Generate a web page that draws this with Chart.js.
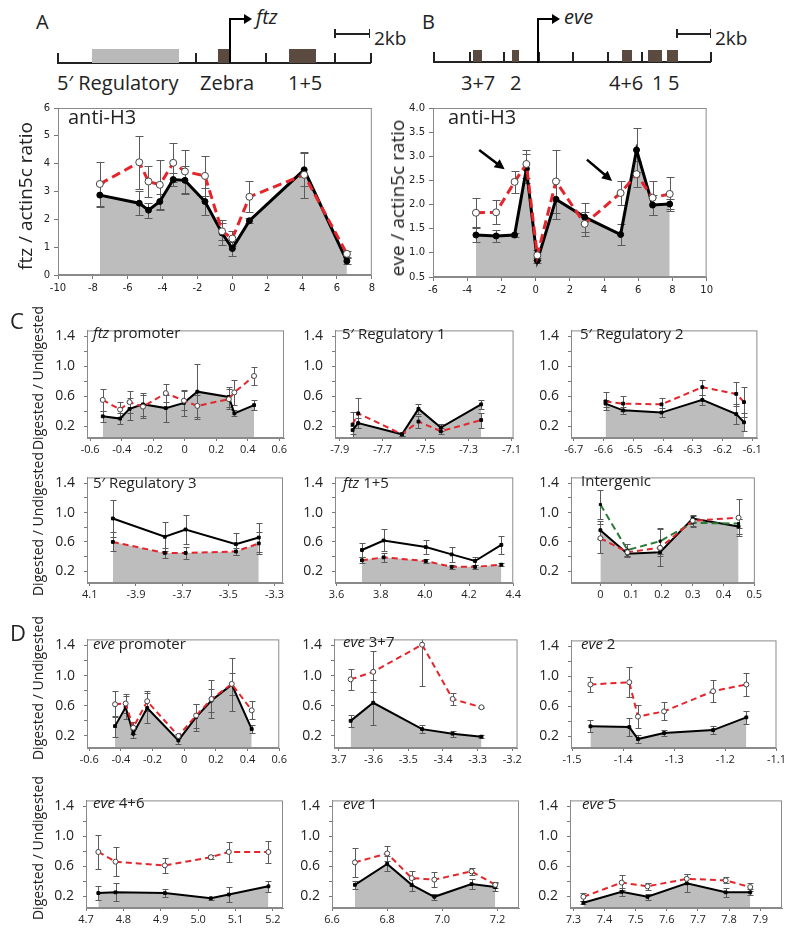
<!DOCTYPE html>
<html>
<head>
<meta charset="utf-8">
<script src="https://cdn.jsdelivr.net/npm/chart.js@4.4.0/dist/chart.umd.min.js"></script>
<style>
body { margin: 0; background: #fff; }
#fig { position: relative; width: 800px; height: 940px; overflow: hidden; font-family: 'Open Sans', sans-serif; color: #222; }
.abs { position: absolute; white-space: nowrap; }
.rot { position: absolute; white-space: nowrap; transform: translate(-50%, -50%) rotate(-90deg); }
canvas { position: absolute; }
</style>
</head>
<body>
<div id="fig"></div>
<script>
// ---- A: ftz locus, anti-H3 (black = filled series, red = dashed) ----
const ftzH3Pos = [-7.6, -5.34, -4.81, -4.16, -3.39, -2.72, -1.57, -0.59, 0, 0.98, 4.12, 6.57];
const ftzH3Black = [2.87, 2.58, 2.33, 2.64, 3.43, 3.40, 2.64, 1.51, 0.95, 1.95, 3.78, 0.50];
const ftzH3BlackErr = [0.42, 0.43, 0.27, 0.28, 0.25, 0.5, 0.48, 0.45, 0.25, 0.08, 0.6, 0.1];
const ftzH3Red = [3.27, 4.05, 3.36, 3.24, 4.03, 3.72, 3.56, 1.57, 1.31, 2.81, 3.60, 0.76];
const ftzH3RedErr = [0.8, 0.95, 0.57, 0.9, 0.7, 0.78, 0.72, 0.3, 0.27, 0.55, 0.82, 0.1];
const ftzH3XTicks = [-10, -8, -6, -4, -2, 0, 2, 4, 6, 8];
const ftzH3YTicks = [0, 1, 2, 3, 4, 5, 6];

// ---- B: eve locus, anti-H3 ----
const eveH3Pos = [-3.49, -2.31, -1.23, -0.54, 0.1, 1.19, 2.87, 4.97, 5.9, 6.84, 7.84];
const eveH3Black = [1.37, 1.35, 1.37, 2.74, 0.84, 2.11, 1.74, 1.38, 3.13, 1.99, 2.01];
const eveH3BlackErr = [0.15, 0.13, 0.05, 0.3, 0.06, 0.4, 0.3, 0.21, 0.46, 0.2, 0.1];
const eveH3Red = [1.83, 1.84, 2.47, 2.84, 0.95, 2.48, 1.6, 2.24, 2.63, 2.14, 2.22];
const eveH3RedErr = [0.3, 0.25, 0.22, 0.3, 0.1, 0.65, 0.25, 0.25, 0.27, 0.35, 0.35];
const eveH3XTicks = [-6, -4, -2, 0, 2, 4, 6, 8, 10];
const eveH3YTicks = [0.5, 1.0, 1.5, 2.0, 2.5, 3.0, 3.5, 4.0];
const eveArrows = [[-3.3, 3.13, -1.81, 2.73], [3.0, 2.93, 4.47, 2.49]];

// ---- C: ftz region digestion ----
const ftzPromPos = [-0.52, -0.41, -0.35, -0.265, -0.12, -0.005, 0.08, 0.28, 0.315, 0.44];
const ftzPromBlack = [0.33, 0.30, 0.43, 0.49, 0.44, 0.51, 0.66, 0.59, 0.37, 0.48];
const ftzPromBlackErr = [0.07, 0.07, 0.15, 0.15, 0.18, 0.17, 0.37, 0.13, 0.04, 0.07];
const ftzPromRed = [0.55, 0.42, 0.52, 0.46, 0.64, 0.54, 0.47, 0.56, 0.65, 0.87];
const ftzPromRedErr = [0.15, 0.1, 0.15, 0.15, 0.12, 0.13, 0.15, 0.13, 0.17, 0.12];
const ftzPromXTicks = [-0.6, -0.4, -0.2, 0, 0.2, 0.4, 0.6];

const reg1Pos = [-7.84, -7.814, -7.61, -7.533, -7.429, -7.241];
const reg1Black = [0.145, 0.24, 0.09, 0.43, 0.18, 0.49];
const reg1BlackErr = [0.05, 0.07, 0.02, 0.07, 0.05, 0.06];
const reg1Red = [0.22, 0.37, 0.09, 0.26, 0.13, 0.28];
const reg1RedErr = [0.17, 0.2, 0.02, 0.08, 0.04, 0.1];
const reg1XTicks = [-7.9, -7.7, -7.5, -7.3, -7.1];

const reg2Pos = [-6.593, -6.534, -6.405, -6.268, -6.154, -6.128];
const reg2Black = [0.5, 0.41, 0.38, 0.55, 0.36, 0.25];
const reg2BlackErr = [0.05, 0.05, 0.06, 0.07, 0.13, 0.12];
const reg2Red = [0.53, 0.50, 0.49, 0.72, 0.63, 0.52];
const reg2RedErr = [0.12, 0.1, 0.09, 0.1, 0.16, 0.2];
const reg2XTicks = [-6.7, -6.6, -6.5, -6.4, -6.3, -6.2, -6.1];

const reg3Pos = [-4.0, -3.775, -3.685, -3.467, -3.368];
const reg3Black = [0.92, 0.67, 0.77, 0.57, 0.66];
const reg3BlackErr = [0.25, 0.2, 0.2, 0.15, 0.2];
const reg3Red = [0.60, 0.45, 0.45, 0.47, 0.58];
const reg3RedErr = [0.13, 0.07, 0.08, 0.05, 0.15];
const reg3XTicks = [-4.1, -3.9, -3.7, -3.5, -3.3];
const reg3XLabels = ['4.1', '-3.9', '-3.7', '-3.5', '-3.3'];

const ftz15Pos = [3.715, 3.813, 4.004, 4.121, 4.227, 4.346];
const ftz15Black = [0.49, 0.62, 0.53, 0.43, 0.34, 0.56];
const ftz15BlackErr = [0.1, 0.15, 0.1, 0.1, 0.05, 0.12];
const ftz15Red = [0.35, 0.39, 0.34, 0.26, 0.26, 0.29];
const ftz15RedErr = [0.04, 0.06, 0.03, 0.03, 0.03, 0.02];
const ftz15XTicks = [3.6, 3.8, 4.0, 4.2, 4.4];

const interPos = [0, 0.088, 0.194, 0.3, 0.449];
const interBlack = [0.76, 0.44, 0.46, 0.92, 0.81];
const interBlackErr = [0.12, 0.04, 0.05, 0.05, 0.1];
const interRed = [0.65, 0.46, 0.52, 0.89, 0.93];
const interRedErr = [0.2, 0.05, 0.25, 0.07, 0.25];
const interGreen = [1.11, 0.49, 0.61, 0.86, 0.85];
const interGreenErr = [0.2, 0.08, 0.18, 0.05, 0.06];
const interXTicks = [0, 0.1, 0.2, 0.3, 0.4, 0.5];

// ---- D: eve region digestion ----
const evePromPos = [-0.437, -0.37, -0.322, -0.234, -0.037, 0.075, 0.172, 0.3, 0.426];
const evePromBlack = [0.33, 0.58, 0.23, 0.57, 0.14, 0.45, 0.67, 0.88, 0.29];
const evePromBlackErr = [0.14, 0.15, 0.06, 0.2, 0.05, 0.18, 0.15, 0.35, 0.05];
const evePromRed = [0.62, 0.63, 0.31, 0.66, 0.2, 0.47, 0.69, 0.89, 0.54];
const evePromRedErr = [0.17, 0.12, 0.08, 0.13, 0.03, 0.16, 0.25, 0.15, 0.12];
const evePromXTicks = [-0.6, -0.4, -0.2, 0, 0.2, 0.4, 0.6];

const eve37Pos = [-3.666, -3.601, -3.46, -3.372, -3.289];
const eve37Black = [0.4, 0.64, 0.29, 0.23, 0.19];
const eve37BlackErr = [0.08, 0.3, 0.05, 0.04, 0.02];
const eve37Red = [0.95, 1.05, 1.41, 0.69, 0.58];
const eve37RedErr = [0.14, 0.27, 0.55, 0.08, 0.01];
const eve37XTicks = [-3.7, -3.6, -3.5, -3.4, -3.3, -3.2];
const eve37XLabels = ['3.7', '-3.6', '-3.5', '-3.4', '-3.3', '-3.2'];

const eve2Pos = [-1.464, -1.388, -1.371, -1.32, -1.224, -1.159];
const eve2Black = [0.33, 0.32, 0.16, 0.24, 0.28, 0.45];
const eve2BlackErr = [0.08, 0.12, 0.05, 0.04, 0.05, 0.09];
const eve2Red = [0.89, 0.92, 0.46, 0.53, 0.80, 0.89];
const eve2RedErr = [0.1, 0.2, 0.15, 0.12, 0.15, 0.15];
const eve2XTicks = [-1.5, -1.4, -1.3, -1.2, -1.1];

const eve46Pos = [4.733, 4.779, 4.911, 5.034, 5.082, 5.188];
const eve46Black = [0.24, 0.25, 0.24, 0.17, 0.22, 0.33];
const eve46BlackErr = [0.09, 0.12, 0.05, 0.02, 0.1, 0.07];
const eve46Red = [0.79, 0.66, 0.61, 0.72, 0.79, 0.79];
const eve46RedErr = [0.23, 0.19, 0.1, 0.03, 0.13, 0.15];
const eve46XTicks = [4.7, 4.8, 4.9, 5.0, 5.1, 5.2];

const eve1Pos = [6.683, 6.8, 6.889, 6.971, 7.106, 7.192];
const eve1Black = [0.35, 0.63, 0.35, 0.19, 0.36, 0.32];
const eve1BlackErr = [0.05, 0.1, 0.08, 0.04, 0.07, 0.05];
const eve1Red = [0.65, 0.77, 0.44, 0.42, 0.53, 0.35];
const eve1RedErr = [0.19, 0.1, 0.1, 0.1, 0.05, 0.04];
const eve1XTicks = [6.6, 6.8, 7.0, 7.2];

const eve5Pos = [7.332, 7.455, 7.538, 7.664, 7.789, 7.868];
const eve5Black = [0.11, 0.256, 0.19, 0.37, 0.25, 0.25];
const eve5BlackErr = [0.02, 0.05, 0.04, 0.12, 0.06, 0.04];
const eve5Red = [0.19, 0.38, 0.33, 0.43, 0.41, 0.32];
const eve5RedErr = [0.05, 0.1, 0.05, 0.07, 0.04, 0.05];
const eve5XTicks = [7.3, 7.4, 7.5, 7.6, 7.7, 7.8, 7.9];

const smallYTicks = [0.2, 0.4, 0.6, 0.8, 1.0, 1.2, 1.4];
const smallYLabels = ['0.2', '', '0.6', '', '1.0', '', '1.4'];

const RED = '#e4262c';
const GREEN = '#2b7a3a';
const FILL = '#bdbdbd';
const fig = document.getElementById('fig');

function txt(html, x, cy, size, extra) {
    const d = document.createElement('div');
    d.className = 'abs';
    d.style.left = x + 'px';
    d.style.top = (cy - size * 0.7) + 'px';
    d.style.fontSize = size + 'px';
    d.style.lineHeight = '1.4';
    if (extra) Object.assign(d.style, extra);
    d.innerHTML = html;
    fig.appendChild(d);
}

function vtxt(str, cx, cy, size) {
    const d = document.createElement('div');
    d.className = 'rot';
    d.style.left = cx + 'px';
    d.style.top = cy + 'px';
    d.style.fontSize = size + 'px';
    d.textContent = str;
    fig.appendChild(d);
}

function rect(x, y, w, h, color) {
    const d = document.createElement('div');
    d.className = 'abs';
    Object.assign(d.style, { left: x + 'px', top: y + 'px', width: w + 'px', height: h + 'px', background: color });
    fig.appendChild(d);
}

function promoterArrow(x, label) {
    rect(x - 1, 19, 2, 44, '#000');
    rect(x - 1, 18, 16, 2, '#000');
    const head = document.createElement('div');
    head.className = 'abs';
    Object.assign(head.style, { left: (x + 14) + 'px', top: '14px', width: 0, height: 0,
        borderLeft: '8px solid #000', borderTop: '5px solid transparent', borderBottom: '5px solid transparent' });
    fig.appendChild(head);
    txt(label, x + 26, 17, 20, { fontStyle: 'italic' });
}

function scaleBar(x0, x1) {
    rect(x0, 33, x1 - x0, 1.5, '#222');
    rect(x0, 29, 1.5, 9, '#222');
    rect(x1 - 1.5, 29, 1.5, 9, '#222');
    txt('2kb', x1 + 4, 38, 19);
}

// Gene maps (A and B)
function drawMaps() {
    txt('A', 36, 22, 20);
    rect(57, 62, 314, 2, '#222');
    [57, 195, 265, 334, 370].forEach(x => rect(x, 53, 1.5, 10, '#222'));
    rect(92, 49, 87, 14, '#b9b9b9');
    rect(218, 49, 12, 14, '#5b4a40');
    rect(289, 49, 27, 14, '#5b4a40');
    promoterArrow(230, 'ftz');
    scaleBar(334, 370);
    txt('5′ Regulatory', 57, 83, 20);
    txt('Zebra', 200, 83, 20);
    txt('1+5', 288, 83, 20);

    txt('B', 422, 22, 20);
    rect(433, 61, 278, 2, '#222');
    [433, 469, 503, 538, 572, 607, 641, 710].forEach(x => rect(x, 52, 1.5, 10, '#222'));
    [[473, 482], [512, 519], [622, 632], [648, 662], [667, 678]].forEach(([a, b]) => rect(a, 50, b - a, 12, '#5b4a40'));
    promoterArrow(538, 'eve');
    scaleBar(676, 711);
    txt('3+7', 461, 83, 20);
    txt('2', 510, 83, 20);
    txt('4+6', 609, 83, 20);
    txt('1', 652, 83, 20);
    txt('5', 668, 83, 20);
}

const frame = {
    id: 'frame',
    afterDraw(chart) {
        const { ctx, chartArea: a } = chart;
        ctx.save();
        ctx.strokeStyle = '#8a8a8a';
        ctx.lineWidth = 1;
        ctx.strokeRect(a.left + 0.5, a.top + 0.5, a.right - a.left - 1, a.bottom - a.top - 1);
        ctx.restore();
    }
};

const errorBars = {
    id: 'errorBars',
    afterDatasetDraw(chart, args) {
        // the fill layer is last in the list and drawn first; bars go right above it
        if (args.index !== chart.data.datasets.length - 1) return;
        const { ctx, chartArea: a, scales: { x, y } } = chart;
        const cap = chart.options.plugins.errorBars.cap;
        ctx.save();
        ctx.beginPath();
        ctx.rect(a.left, a.top, a.right - a.left, a.bottom - a.top);
        ctx.clip();
        ctx.strokeStyle = '#5a5a5a';
        ctx.lineWidth = 1;
        chart.data.datasets.forEach(ds => {
            if (!ds.err) return;
            ds.data.forEach((p, i) => {
                const e = ds.err[i];
                const px = Math.round(x.getPixelForValue(p.x)) + 0.5;
                const t = Math.round(y.getPixelForValue(p.y + e)) + 0.5;
                const b = Math.round(y.getPixelForValue(p.y - e)) + 0.5;
                ctx.beginPath();
                ctx.moveTo(px, t); ctx.lineTo(px, b);
                ctx.moveTo(px - cap, t); ctx.lineTo(px + cap, t);
                ctx.moveTo(px - cap, b); ctx.lineTo(px + cap, b);
                ctx.stroke();
            });
        });
        ctx.restore();
    }
};

const arrows = {
    id: 'arrows',
    afterDatasetsDraw(chart) {
        const list = chart.options.plugins.arrows.list;
        if (!list) return;
        const { ctx, scales: { x, y } } = chart;
        ctx.save();
        ctx.strokeStyle = '#000';
        ctx.fillStyle = '#000';
        ctx.lineWidth = 2.5;
        list.forEach(([x0, y0, x1, y1]) => {
            const ax = x.getPixelForValue(x0), ay = y.getPixelForValue(y0);
            const bx = x.getPixelForValue(x1), by = y.getPixelForValue(y1);
            const ang = Math.atan2(by - ay, bx - ax);
            const hl = 10;
            ctx.beginPath();
            ctx.moveTo(ax, ay);
            ctx.lineTo(bx - Math.cos(ang) * hl * 0.8, by - Math.sin(ang) * hl * 0.8);
            ctx.stroke();
            ctx.beginPath();
            ctx.moveTo(bx, by);
            ctx.lineTo(bx - hl * Math.cos(ang) + 5 * Math.sin(ang), by - hl * Math.sin(ang) - 5 * Math.cos(ang));
            ctx.lineTo(bx - hl * Math.cos(ang) - 5 * Math.sin(ang), by - hl * Math.sin(ang) + 5 * Math.cos(ang));
            ctx.closePath();
            ctx.fill();
        });
        ctx.restore();
    }
};

function lineSet(pos, vals, err, kind, big) {
    const ds = {
        data: pos.map((x, i) => ({ x, y: vals[i] })),
        err,
        fill: false,
        tension: 0,
        borderWidth: big ? 3 : 2,
        pointBorderWidth: 1
    };
    if (kind === 'black') {
        Object.assign(ds, { borderColor: '#000', pointBackgroundColor: '#000', pointBorderColor: '#000',
            pointStyle: big ? 'circle' : 'rect', pointRadius: big ? 3 : 2 });
    } else if (kind === 'green') {
        Object.assign(ds, { borderColor: GREEN, borderDash: [7, 4], pointBackgroundColor: '#000',
            pointBorderColor: '#000', pointStyle: 'rect', pointRadius: 1.5 });
    } else {
        Object.assign(ds, { borderColor: RED, borderDash: big ? [9, 5] : [6, 4] });
        if (kind === 'redSquare') {
            Object.assign(ds, { pointBackgroundColor: '#000', pointBorderColor: '#000', pointStyle: 'rect', pointRadius: 2 });
        } else {
            Object.assign(ds, { pointBackgroundColor: '#fff', pointBorderColor: '#444', pointStyle: 'circle', pointRadius: big ? 3.5 : 2.5 });
        }
    }
    return ds;
}

function fmt(v, dec) {
    return v === 0 ? '0' : v.toFixed(dec);
}

function makeChart(p) {
    const [L, T, R, B] = p.box;
    const big = !!p.big;
    const yW = big ? 28 : 38;
    const xH = big ? 22 : 20;
    const padTop = 5, padRight = 6;
    const w = (R - L) + yW + padRight;
    const h = (B - T) + padTop + xH;
    const c = document.createElement('canvas');
    c.width = w; c.height = h;
    Object.assign(c.style, { left: (L - yW) + 'px', top: (T - padTop) + 'px', width: w + 'px', height: h + 'px' });
    fig.appendChild(c);

    const datasets = p.series.map(s => lineSet(p.pos, s.vals, s.err, s.kind, big));
    const filled = p.series[p.fill];
    datasets.push({
        data: p.pos.map((x, i) => ({ x, y: filled.vals[i] })),
        fill: 'start',
        backgroundColor: FILL,
        borderColor: 'rgba(0,0,0,0)',
        borderWidth: 0,
        pointRadius: 0,
        tension: 0
    });

    const tickFont = big ? { family: 'DejaVu Sans', size: 10 } : { family: 'Open Sans', size: 11 };
    const yFont = big ? { family: 'DejaVu Sans', size: 10 } : { family: 'Open Sans', size: 14 };
    const xLabels = p.xLabels || p.xTicks.map(v => fmt(v, p.dec));
    const yLabels = p.yLabels || p.yTicks.map(v => fmt(v, p.ydec || 0));

    new Chart(c, {
        type: 'line',
        data: { datasets },
        options: {
            responsive: false,
            animation: false,
            devicePixelRatio: 1,
            layout: { padding: { top: padTop, right: padRight, left: 0, bottom: 0 } },
            plugins: {
                legend: { display: false },
                tooltip: { enabled: false },
                errorBars: { cap: big ? 4 : 3 },
                arrows: { list: p.arrows || null }
            },
            scales: {
                x: {
                    type: 'linear',
                    min: p.xMin,
                    max: p.xMax,
                    afterBuildTicks: s => { s.ticks = p.xTicks.map(v => ({ value: v })); },
                    afterFit: s => { s.height = xH; },
                    ticks: { callback: (v, i) => xLabels[i], font: tickFont, color: '#222', padding: big ? 3 : 2,
                        maxRotation: 0, autoSkip: false },
                    grid: { drawOnChartArea: false, tickLength: big ? 4 : 3, color: '#777' },
                    border: { color: '#8a8a8a' }
                },
                y: {
                    type: 'linear',
                    min: p.yMin,
                    max: p.yMax,
                    afterBuildTicks: s => { s.ticks = p.yTicks.map(v => ({ value: v })); },
                    afterFit: s => { s.width = yW; },
                    ticks: { callback: (v, i) => yLabels[i], font: yFont, color: '#222', padding: big ? 4 : 9, autoSkip: false },
                    grid: { drawOnChartArea: false, tickLength: big ? 4 : 3, color: '#777' },
                    border: { color: '#8a8a8a' }
                }
            }
        },
        plugins: [frame, errorBars, arrows]
    });
}

function small(box, pos, black, blackErr, red, redErr, redKind, fill, xMin, xMax, xTicks, dec, xLabels) {
    return {
        box, pos, xMin, xMax, xTicks, dec, xLabels,
        yMin: 0.04, yMax: 1.48, yTicks: smallYTicks, yLabels: smallYLabels,
        series: [
            { vals: red, err: redErr, kind: redKind },
            { vals: black, err: blackErr, kind: 'black' }
        ],
        fill
    };
}

drawMaps();

const panels = [
    {
        big: true, box: [58, 103, 372, 275], pos: ftzH3Pos,
        xMin: -10, xMax: 8, xTicks: ftzH3XTicks, dec: 0,
        yMin: 0, yMax: 6, yTicks: ftzH3YTicks,
        series: [{ vals: ftzH3Red, err: ftzH3RedErr, kind: 'red' }, { vals: ftzH3Black, err: ftzH3BlackErr, kind: 'black' }],
        fill: 1
    },
    {
        big: true, box: [433, 103, 710, 277], pos: eveH3Pos,
        xMin: -6, xMax: 10, xTicks: eveH3XTicks, dec: 0,
        yMin: 0.5, yMax: 4.0, yTicks: eveH3YTicks, ydec: 1,
        series: [{ vals: eveH3Red, err: eveH3RedErr, kind: 'red' }, { vals: eveH3Black, err: eveH3BlackErr, kind: 'black' }],
        fill: 1, arrows: eveArrows
    },
    small([87, 318, 284, 438], ftzPromPos, ftzPromBlack, ftzPromBlackErr, ftzPromRed, ftzPromRedErr, 'red', 1, -0.62, 0.63, ftzPromXTicks, 1),
    small([335, 318, 517, 438], reg1Pos, reg1Black, reg1BlackErr, reg1Red, reg1RedErr, 'redSquare', 1, -7.922, -7.09, reg1XTicks, 1),
    small([571, 318, 758, 438], reg2Pos, reg2Black, reg2BlackErr, reg2Red, reg2RedErr, 'redSquare', 1, -6.709, -6.083, reg2XTicks, 1),
    small([87, 465, 283, 583], reg3Pos, reg3Black, reg3BlackErr, reg3Red, reg3RedErr, 'redSquare', 0, -4.112, -3.263, reg3XTicks, 1, reg3XLabels),
    small([335, 465, 517, 583], ftz15Pos, ftz15Black, ftz15BlackErr, ftz15Red, ftz15RedErr, 'redSquare', 0, 3.593, 4.4, ftz15XTicks, 1),
    small([87, 627, 283, 748], evePromPos, evePromBlack, evePromBlackErr, evePromRed, evePromRedErr, 'red', 1, -0.614, 0.6, evePromXTicks, 1),
    small([334, 627, 518, 748], eve37Pos, eve37Black, eve37BlackErr, eve37Red, eve37RedErr, 'red', 1, -3.714, -3.185, eve37XTicks, 1, eve37XLabels),
    small([571, 628, 782, 748], eve2Pos, eve2Black, eve2BlackErr, eve2Red, eve2RedErr, 'red', 1, -1.502, -1.1, eve2XTicks, 1),
    small([86, 788, 283, 908], eve46Pos, eve46Black, eve46BlackErr, eve46Red, eve46RedErr, 'red', 1, 4.7, 5.227, eve46XTicks, 1),
    small([332, 788, 519, 908], eve1Pos, eve1Black, eve1BlackErr, eve1Red, eve1RedErr, 'red', 1, 6.6, 7.278, eve1XTicks, 1),
    small([570, 788, 782, 908], eve5Pos, eve5Black, eve5BlackErr, eve5Red, eve5RedErr, 'red', 1, 7.289, 7.97, eve5XTicks, 1)
];

// Intergenic has a third (green) series
const inter = small([571, 465, 758, 583], interPos, interBlack, interBlackErr, interRed, interRedErr, 'red', 2, -0.0955, 0.502, interXTicks, 1);
inter.series.push({ vals: interBlack, err: interBlackErr, kind: 'black' });
inter.series[1] = { vals: interGreen, err: interGreenErr, kind: 'green' };
panels.push(inter);

panels.forEach(makeChart);

// Axis titles and panel labels
vtxt('ftz / actin5c ratio', 25, 196, 19);
vtxt('eve / actin5c ratio', 397, 198, 19);
txt('anti-H3', 68, 117, 20);
txt('anti-H3', 448, 117, 20);
txt('C', 10, 320, 22);
txt('D', 10, 632, 22);
vtxt('Digested / Undigested', 37, 378, 14);
vtxt('Digested / Undigested', 37, 524, 14);
vtxt('Digested / Undigested', 37, 688, 14);
vtxt('Digested / Undigested', 37, 848, 14);

txt('<i>ftz</i> promoter', 93, 332, 15);
txt('5′ Regulatory 1', 342, 333, 15);
txt('5′ Regulatory 2', 580, 333, 15);
txt('5′ Regulatory 3', 93, 482, 15);
txt('<i>ftz</i> 1+5', 343, 482, 15);
txt('Intergenic', 581, 480, 15);
txt('<i>eve</i> promoter', 93, 643, 15);
txt('<i>eve</i> 3+7', 343, 641, 15);
txt('<i>eve</i> 2', 581, 643, 15);
txt('<i>eve</i> 4+6', 93, 802, 15);
txt('<i>eve</i> 1', 343, 803, 15);
txt('<i>eve</i> 5', 582, 803, 15);
</script>
</body>
</html>
